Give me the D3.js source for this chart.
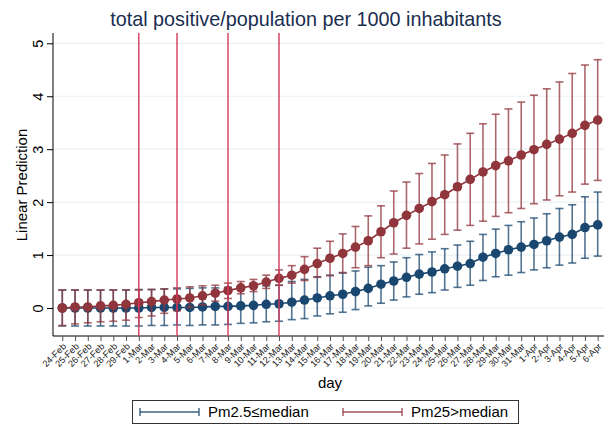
<!DOCTYPE html>
<html lang="en">
<head>
<meta charset="UTF-8">
<title>total positive/population per 1000 inhabitants</title>
<style>
    body {
        margin: 0;
        padding: 0;
        background-color: #fff;
        font-family: "Liberation Sans", Arial, sans-serif;
    }
    svg text {
        font-family: "Liberation Sans", Arial, sans-serif;
    }
</style>
</head>
<body>
<svg id="chart" width="604" height="431"></svg>

<script src="https://d3js.org/d3.v7.min.js"></script>
<script>
    // days on the x axis
    var days = ["24-Feb", "25-Feb", "26-Feb", "27-Feb", "28-Feb", "29-Feb",
        "1-Mar", "2-Mar", "3-Mar", "4-Mar", "5-Mar", "6-Mar", "7-Mar", "8-Mar", "9-Mar", "10-Mar",
        "11-Mar", "12-Mar", "13-Mar", "14-Mar", "15-Mar", "16-Mar", "17-Mar", "18-Mar", "19-Mar",
        "20-Mar", "21-Mar", "22-Mar", "23-Mar", "24-Mar", "25-Mar", "26-Mar", "27-Mar", "28-Mar",
        "29-Mar", "30-Mar", "31-Mar", "1-Apr", "2-Apr", "3-Apr", "4-Apr", "5-Apr", "6-Apr"];

    // Pm2.5 <= median (blue)
    var lowMean = [0.00, 0.00, 0.00, 0.00, 0.00, 0.00, 0.00, 0.01, 0.01, 0.01, 0.01, 0.02, 0.03, 0.03, 0.04,
        0.05, 0.07, 0.08, 0.11, 0.15, 0.19, 0.23, 0.26, 0.31, 0.37, 0.45, 0.51, 0.58, 0.64, 0.68,
        0.74, 0.79, 0.84, 0.96, 1.03, 1.10, 1.15, 1.20, 1.27, 1.34, 1.39, 1.52, 1.57];
    var lowLo = [-0.34, -0.34, -0.34, -0.34, -0.34, -0.34, -0.34, -0.33, -0.33, -0.32, -0.33, -0.32, -0.32, -0.31, -0.29,
        -0.28, -0.26, -0.25, -0.22, -0.20, -0.15, -0.11, -0.08, -0.03, 0.04, 0.09, 0.15, 0.21, 0.26, 0.29,
        0.34, 0.39, 0.43, 0.52, 0.59, 0.62, 0.67, 0.72, 0.76, 0.81, 0.85, 0.94, 0.98];
    var lowHi = [0.34, 0.34, 0.34, 0.34, 0.34, 0.34, 0.35, 0.35, 0.36, 0.36, 0.37, 0.38, 0.38, 0.39, 0.40,
        0.41, 0.42, 0.43, 0.50, 0.54, 0.59, 0.62, 0.66, 0.70, 0.77, 0.80, 0.87, 0.95, 1.01, 1.06,
        1.12, 1.19, 1.26, 1.39, 1.49, 1.56, 1.63, 1.70, 1.78, 1.88, 1.95, 2.10, 2.19];

    // Pm25 > median (red)
    var highMean = [0.00, 0.02, 0.02, 0.04, 0.05, 0.07, 0.10, 0.12, 0.15, 0.17, 0.19, 0.23, 0.28, 0.33, 0.38,
        0.42, 0.49, 0.56, 0.62, 0.73, 0.84, 0.94, 1.03, 1.15, 1.27, 1.44, 1.61, 1.75, 1.88, 2.01,
        2.14, 2.29, 2.43, 2.57, 2.69, 2.78, 2.89, 2.99, 3.09, 3.19, 3.30, 3.45, 3.55];
    var highLo = [-0.33, -0.30, -0.28, -0.26, -0.25, -0.23, -0.18, -0.15, -0.10, -0.05, 0.01, 0.06, 0.13, 0.18, 0.27,
        0.31, 0.37, 0.43, 0.47, 0.52, 0.58, 0.61, 0.67, 0.76, 0.80, 0.95, 1.02, 1.13, 1.21, 1.30,
        1.39, 1.47, 1.56, 1.64, 1.73, 1.80, 1.88, 1.97, 2.04, 2.12, 2.19, 2.34, 2.41];
    var highHi = [0.34, 0.34, 0.34, 0.34, 0.34, 0.34, 0.34, 0.35, 0.36, 0.38, 0.40, 0.42, 0.43, 0.47, 0.50,
        0.54, 0.62, 0.72, 0.80, 0.97, 1.13, 1.26, 1.40, 1.54, 1.74, 1.93, 2.21, 2.38, 2.54, 2.73,
        2.89, 3.10, 3.30, 3.48, 3.66, 3.76, 3.89, 4.02, 4.14, 4.27, 4.43, 4.59, 4.69];

    // vertical reference lines
    var markDays = ["1-Mar", "4-Mar", "8-Mar", "12-Mar"];
    var yTicks = [0, 1, 2, 3, 4, 5];
    var seriesNames = ["Pm2.5\u2264median", "Pm25>median"];

    var blue = "#1a476f", red = "#90353b";

    const svg = d3.select("#chart");

    // 比例尺
    const xScale = d3.scalePoint()
        .domain(days)
        .range([62.3, 597.7]);

    const yScale = d3.scaleLinear()
        .domain([0, 5])
        .range([308, 43.3]);

    const plotTop = 33, plotBottom = 336, plotLeft = 53, plotRight = 604;

    // 网格线
    svg.append("g")
        .selectAll("line")
        .data(yTicks)
        .join("line")
        .attr("x1", plotLeft)
        .attr("x2", plotRight)
        .attr("y1", d => yScale(d))
        .attr("y2", d => yScale(d))
        .attr("stroke", "#eaf2f3")
        .attr("stroke-width", 1.2);

    // title
    svg.append("text")
        .attr("x", 306)
        .attr("y", 26)
        .attr("text-anchor", "middle")
        .attr("font-size", 19.8)
        .attr("fill", "#1a2e50")
        .text("total positive/population per 1000 inhabitants");

    // y 轴
    const yAxis = d3.axisLeft(yScale).tickValues(yTicks).tickFormat(d3.format("d")).tickSize(6).tickPadding(4);
    const yg = svg.append("g")
        .attr("transform", "translate(" + plotLeft + ",0)")
        .call(yAxis);
    yg.select(".domain").attr("d", "M0," + plotTop + "V" + plotBottom).attr("stroke", "#000");
    yg.selectAll(".tick line").attr("stroke", "#000");
    yg.selectAll(".tick text")
        .attr("font-size", 14.5)
        .attr("fill", "#000")
        .attr("text-anchor", "middle")
        .attr("x", 0)
        .attr("dy", 0)
        .attr("transform", "translate(-10,0) rotate(-90)");

    svg.append("text")
        .attr("transform", "translate(22,185) rotate(-90)")
        .attr("text-anchor", "middle")
        .attr("dy", "0.35em")
        .attr("font-size", 15)
        .attr("fill", "#000")
        .text("Linear Prediction");

    // x 轴
    const xAxis = d3.axisBottom(xScale).tickSize(5).tickPadding(3);
    const xg = svg.append("g")
        .attr("transform", "translate(0," + plotBottom + ")")
        .call(xAxis);
    xg.select(".domain").attr("d", "M" + plotLeft + ",0H" + plotRight).attr("stroke", "#000");
    xg.selectAll(".tick line").attr("stroke", "#555");
    xg.selectAll(".tick text")
        .attr("font-size", 9.2)
        .attr("fill", "#222")
        .attr("text-anchor", "end")
        .attr("dy", 0)
        .attr("transform", "translate(4,11) rotate(-45)")
        .attr("y", 0)
        .attr("x", 0);

    svg.append("text")
        .attr("x", 330)
        .attr("y", 388)
        .attr("text-anchor", "middle")
        .attr("font-size", 15)
        .attr("fill", "#000")
        .text("day");

    // 画误差线和点
    function drawSeries(mean, lo, hi, color) {
        const g = svg.append("g");
        const cap = 4;
        g.selectAll("line.bar")
            .data(days)
            .join("line")
            .attr("class", "bar")
            .attr("x1", d => xScale(d))
            .attr("x2", d => xScale(d))
            .attr("y1", (d, i) => yScale(lo[i]))
            .attr("y2", (d, i) => yScale(hi[i]))
            .attr("stroke", color)
            .attr("stroke-opacity", 0.75)
            .attr("stroke-width", 1.6);
        g.selectAll("line.caplo")
            .data(days)
            .join("line")
            .attr("class", "caplo")
            .attr("x1", d => xScale(d) - cap)
            .attr("x2", d => xScale(d) + cap)
            .attr("y1", (d, i) => yScale(lo[i]))
            .attr("y2", (d, i) => yScale(lo[i]))
            .attr("stroke", color)
            .attr("stroke-opacity", 0.75)
            .attr("stroke-width", 1.6);
        g.selectAll("line.caphi")
            .data(days)
            .join("line")
            .attr("class", "caphi")
            .attr("x1", d => xScale(d) - cap)
            .attr("x2", d => xScale(d) + cap)
            .attr("y1", (d, i) => yScale(hi[i]))
            .attr("y2", (d, i) => yScale(hi[i]))
            .attr("stroke", color)
            .attr("stroke-opacity", 0.75)
            .attr("stroke-width", 1.6);
        const line = d3.line()
            .x(d => xScale(d))
            .y((d, i) => yScale(mean[i]));
        g.append("path")
            .datum(days)
            .attr("d", line)
            .attr("fill", "none")
            .attr("stroke", color)
            .attr("stroke-width", 1.6);
        g.selectAll("circle")
            .data(days)
            .join("circle")
            .attr("cx", d => xScale(d))
            .attr("cy", (d, i) => yScale(mean[i]))
            .attr("r", 4.8)
            .attr("fill", color);
    }

    drawSeries(lowMean, lowLo, lowHi, blue);
    drawSeries(highMean, highLo, highHi, red);

    // 竖线
    svg.append("g")
        .selectAll("line")
        .data(markDays)
        .join("line")
        .attr("x1", d => xScale(d))
        .attr("x2", d => xScale(d))
        .attr("y1", plotTop)
        .attr("y2", plotBottom)
        .attr("stroke", "#d6395c")
        .attr("stroke-width", 1.4);

    // 图例
    const legend = svg.append("g");
    legend.append("rect")
        .attr("x", 132.5)
        .attr("y", 400.5)
        .attr("width", 386)
        .attr("height", 23)
        .attr("fill", "#fff")
        .attr("stroke", "#333")
        .attr("stroke-width", 1);
    const legX = [140, 343];
    const legColors = [blue, red];
    seriesNames.forEach(function(name, i) {
        legend.append("line")
            .attr("x1", legX[i]).attr("x2", legX[i] + 59)
            .attr("y1", 412).attr("y2", 412)
            .attr("stroke", legColors[i]).attr("stroke-opacity", 0.85).attr("stroke-width", 1.4);
        [legX[i], legX[i] + 59].forEach(function(cx) {
            legend.append("line")
                .attr("x1", cx).attr("x2", cx)
                .attr("y1", 408).attr("y2", 416)
                .attr("stroke", legColors[i]).attr("stroke-opacity", 0.85).attr("stroke-width", 1.4);
        });
        legend.append("text")
            .attr("x", legX[i] + 68)
            .attr("y", 417)
            .attr("font-size", 15)
            .attr("fill", "#000")
            .text(name);
    });
</script>
</body>
</html>
